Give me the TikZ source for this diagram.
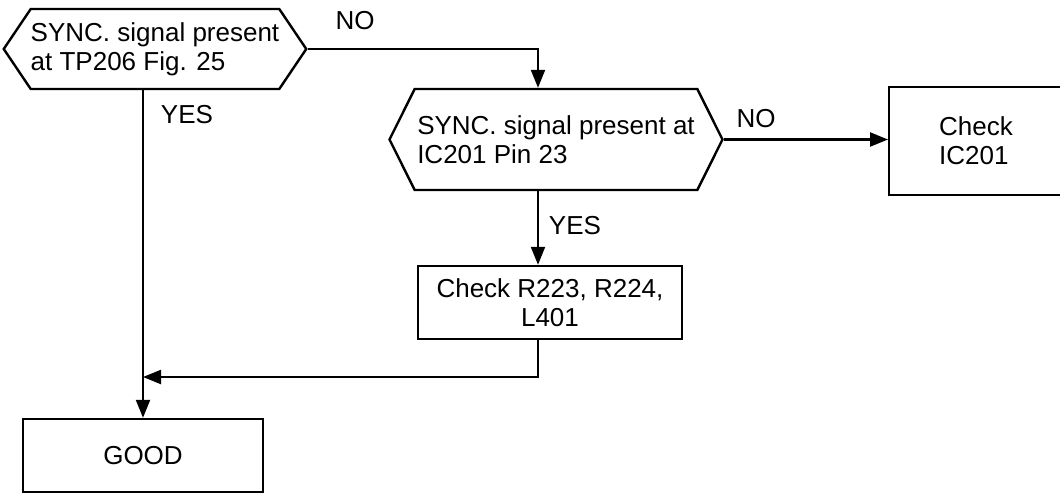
\documentclass[tikz,border=0pt]{standalone}
\usepackage{fontspec}
\setmainfont{Liberation Sans}
\usetikzlibrary{shapes.symbols,arrows.meta}
\tikzset{
  hexa/.style={draw, line width=1.2pt, shape=signal, signal to=west and east, align=left, inner sep=0pt},
  boxed/.style={draw, line width=1.2pt, rectangle, align=center, inner sep=0pt},
  arr/.style={line width=1.1pt, -{Triangle[length=9pt,width=7pt]}},
  lbl/.style={inner sep=0pt}
}
\begin{document}
\begin{tikzpicture}[x=0.5pt,y=-0.5pt,font=\fontsize{13}{14.5}\selectfont]
\useasboundingbox (0,0) rectangle (1060,493);
\node[hexa, minimum width=150pt, minimum height=40pt, signal pointer angle=112] (sync1) at (155,49) {SYNC. signal present\\at TP206 Fig. 25};
\node[hexa, minimum width=166.5pt, minimum height=50.5pt, signal pointer angle=127] (sync2) at (556,139.5) {SYNC. signal present at\\IC201 Pin 23};
\node[boxed, anchor=west, text width=75pt, inner xsep=25pt, minimum height=54pt, align=left] (ic) at (888,141) {Check\\IC201};
\node[boxed, minimum width=132pt, minimum height=36.5pt] (chk) at (550,302.5) {Check R223, R224,\\L401};
\node[boxed, minimum width=120pt, minimum height=36.5pt] (good) at (143,455.5) {GOOD};
\coordinate (col) at (538,0);
\coordinate (lcol) at (143,0);
\coordinate (merge) at (143,377);
\node[lbl] (no1) at (355,21) {NO};
\node[lbl] (yes1) at (187,115) {YES};
\node[lbl] (no2) at (756,119) {NO};
\node[lbl] (yes2) at (575,226) {YES};
\draw[arr] (sync1.east) -| (col |- sync2.north);
\draw[arr] (sync2.east) -- (sync2.east -| ic.west);
\draw[arr] (col |- sync2.south) -- (col |- chk.north);
\draw[arr] (col |- chk.south) |- (merge);
\draw[arr] (lcol |- sync1.south) -- (lcol |- good.north);
\end{tikzpicture}
\end{document}
